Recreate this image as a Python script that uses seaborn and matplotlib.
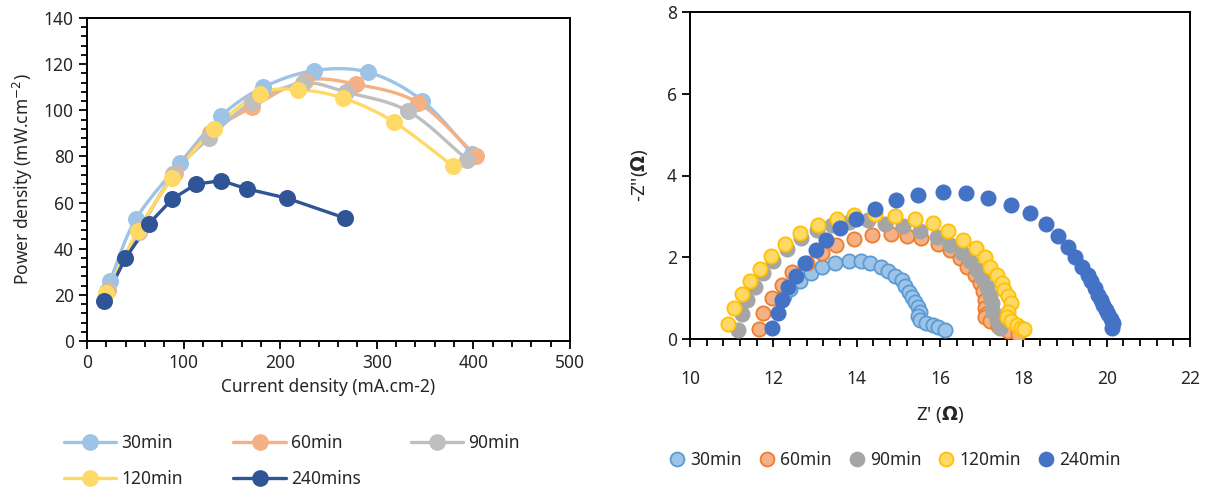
import numpy as np
import pandas as pd
import matplotlib
matplotlib.use("Agg")
import matplotlib.pyplot as plt
from matplotlib.lines import Line2D
from matplotlib.ticker import MultipleLocator
import seaborn as sns

# ---------------- Power density curves ----------------
pd_labels = ["30min", "60min", "90min", "120min", "240mins"]
pd_colors = ["#9DC3E6", "#F4B183", "#BFBFBF", "#FFD966", "#2F5597"]

cur_30 = [23.8, 50.4, 96.0, 139.0, 182.5, 235.0, 291.0, 347.0, 399.0]
pow_30 = [26.1, 52.7, 77.0, 97.6, 110.0, 117.2, 116.5, 104.2, 81.0]
cur_60 = [21.8, 53.6, 91.3, 127.8, 170.6, 226.0, 278.6, 343.0, 402.8]
pow_60 = [22.2, 48.0, 72.8, 90.3, 101.3, 112.9, 111.3, 103.2, 80.4]
cur_90 = [21.0, 53.6, 89.3, 126.0, 170.6, 224.0, 268.0, 332.5, 393.7]
pow_90 = [21.5, 47.3, 72.3, 87.8, 103.4, 111.7, 107.9, 99.6, 78.6]
cur_120 = [19.8, 52.4, 88.0, 131.7, 178.6, 218.0, 265.0, 317.5, 379.0]
pow_120 = [20.8, 47.7, 70.5, 92.1, 107.2, 108.9, 105.3, 95.0, 75.8]
cur_240 = [17.9, 39.7, 64.3, 88.5, 113.0, 139.0, 166.0, 207.0, 267.0]
pow_240 = [17.5, 35.8, 50.9, 61.6, 68.0, 69.5, 65.9, 61.9, 53.3]

pd_series = [(cur_30, pow_30, True), (cur_60, pow_60, True), (cur_90, pow_90, True),
             (cur_120, pow_120, True), (cur_240, pow_240, False)]

# ---------------- Nyquist plots ----------------
eis_labels = ["30min", "60min", "90min", "120min", "240min"]
eis_face = ["#9DC3E6", "#F4B183", "#A5A5A5", "#FFD966", "#4472C4"]
eis_edge = ["#5B9BD5", "#ED7D31", "#A5A5A5", "#FFC000", "#4472C4"]

zre_30 = [12.25, 12.40, 12.63, 12.90, 13.17, 13.49, 13.82, 14.10, 14.32, 14.58, 14.76, 14.92,
          15.08, 15.17, 15.25, 15.32, 15.40, 15.48, 15.52, 15.48, 15.52, 15.66, 15.82, 15.96, 16.12]
zim_30 = [1.05, 1.22, 1.43, 1.61, 1.76, 1.85, 1.92, 1.91, 1.86, 1.77, 1.66, 1.55,
          1.44, 1.30, 1.16, 1.03, 0.91, 0.79, 0.67, 0.57, 0.47, 0.40, 0.34, 0.29, 0.23]
zre_60 = [11.66, 11.76, 11.96, 12.20, 12.44, 12.81, 13.16, 13.50, 13.94, 14.36, 14.82, 15.20,
          15.54, 15.96, 16.24, 16.48, 16.64, 16.84, 16.96, 17.04, 17.08, 17.08, 17.10, 17.07,
          17.20, 17.40, 17.62, 17.86]
zim_60 = [0.25, 0.63, 1.01, 1.32, 1.63, 1.86, 2.11, 2.30, 2.45, 2.55, 2.57, 2.53,
          2.47, 2.32, 2.18, 1.98, 1.77, 1.57, 1.37, 1.17, 0.96, 0.76, 0.60, 0.53,
          0.45, 0.32, 0.20, 0.13]
zre_90 = [11.14, 11.24, 11.36, 11.56, 11.76, 12.00, 12.32, 12.66, 13.04, 13.40, 13.82, 14.28,
          14.68, 15.12, 15.52, 15.92, 16.24, 16.52, 16.72, 16.88, 17.00, 17.12, 17.20, 17.24,
          17.28, 17.36, 17.44]
zim_90 = [0.22, 0.61, 0.96, 1.28, 1.61, 1.90, 2.20, 2.47, 2.67, 2.78, 2.86, 2.90,
          2.82, 2.76, 2.65, 2.50, 2.31, 2.10, 1.90, 1.69, 1.49, 1.28, 1.08, 0.87,
          0.67, 0.47, 0.26]
zre_120 = [10.92, 11.06, 11.24, 11.44, 11.68, 11.94, 12.29, 12.64, 13.06, 13.52, 13.94, 14.44,
           14.92, 15.40, 15.84, 16.20, 16.56, 16.86, 17.08, 17.20, 17.36, 17.48, 17.54, 17.64,
           17.70, 17.62, 17.60, 17.70, 17.84, 17.95, 18.02]
zim_120 = [0.37, 0.75, 1.09, 1.42, 1.72, 2.02, 2.32, 2.59, 2.80, 2.94, 3.04, 3.05,
           3.00, 2.94, 2.84, 2.65, 2.43, 2.22, 2.00, 1.77, 1.57, 1.38, 1.20, 1.04,
           0.87, 0.67, 0.55, 0.45, 0.35, 0.28, 0.24]
zre_240 = [11.96, 12.10, 12.20, 12.36, 12.54, 12.76, 13.02, 13.26, 13.60, 13.98, 14.44, 14.94,
           15.48, 16.06, 16.62, 17.16, 17.70, 18.16, 18.54, 18.84, 19.06, 19.24, 19.40, 19.54,
           19.62, 19.72, 19.80, 19.86, 19.92, 19.98, 20.04, 20.10, 20.14, 20.12]
zim_240 = [0.28, 0.63, 0.96, 1.26, 1.55, 1.86, 2.17, 2.43, 2.72, 2.94, 3.18, 3.39,
           3.53, 3.59, 3.56, 3.44, 3.29, 3.08, 2.81, 2.53, 2.25, 2.00, 1.76, 1.57,
           1.41, 1.24, 1.08, 0.96, 0.83, 0.71, 0.61, 0.48, 0.38, 0.28]

eis_series = [(zre_30, zim_30), (zre_60, zim_60), (zre_90, zim_90),
              (zre_120, zim_120), (zre_240, zim_240)]


def catmull_rom(x, y, steps=16):
    """Smoothed path through the points (Catmull-Rom spline)."""
    p = np.column_stack([x, y]).astype(float)
    p = np.vstack([p[0] * 2 - p[1], p, p[-1] * 2 - p[-2]])
    out = []
    t = np.linspace(0, 1, steps, endpoint=False)[:, None]
    for i in range(1, len(p) - 2):
        p0, p1, p2, p3 = p[i - 1], p[i], p[i + 1], p[i + 2]
        seg = 0.5 * ((2 * p1) + (-p0 + p2) * t + (2 * p0 - 5 * p1 + 4 * p2 - p3) * t ** 2
                     + (-p0 + 3 * p1 - 3 * p2 + p3) * t ** 3)
        out.append(seg)
    out.append(p[-2][None, :])
    out = np.vstack(out)
    return out[:, 0], out[:, 1]


sns.set_style("ticks")
plt.rcParams["font.family"] = ["Noto Sans", "DejaVu Sans"]
plt.rcParams["mathtext.fontset"] = "dejavusans"
plt.rcParams["text.color"] = "#262626"
plt.rcParams["axes.labelcolor"] = "#262626"
plt.rcParams["xtick.color"] = "black"
plt.rcParams["ytick.color"] = "black"
plt.rcParams["xtick.labelcolor"] = "#262626"
plt.rcParams["ytick.labelcolor"] = "#262626"

fig = plt.figure(figsize=(12.11, 4.88), dpi=100)
ax1 = fig.add_axes([87 / 1211, 1 - 341 / 488, 483 / 1211, 323 / 488])
ax2 = fig.add_axes([690 / 1211, 1 - 339 / 488, 500 / 1211, 327 / 488])

FS = 12.5

# ---- left panel ----
handles = []
for (cx, py, smooth), lab, col in zip(pd_series, pd_labels, pd_colors):
    if smooth:
        sx, sy = catmull_rom(cx, py)
    else:
        sx, sy = np.asarray(cx), np.asarray(py)
    sns.lineplot(x=sx, y=sy, sort=False, ax=ax1, color=col, lw=2.4, estimator=None,
                 legend=False)
    sns.scatterplot(x=cx, y=py, ax=ax1, color=col, s=150, linewidth=0, zorder=3,
                    legend=False)
    handles.append(Line2D([], [], color=col, lw=2.4, marker="o", ms=11, mec=col))

ax1.set_xlim(0, 500)
ax1.set_ylim(0, 140)
ax1.xaxis.set_major_locator(MultipleLocator(100))
ax1.xaxis.set_minor_locator(MultipleLocator(20))
ax1.yaxis.set_major_locator(MultipleLocator(20))
ax1.yaxis.set_minor_locator(MultipleLocator(4))
ax1.tick_params(which="major", direction="out", length=6, width=1.3, labelsize=FS)
ax1.tick_params(which="minor", direction="out", length=4, width=1.3)
ax1.set_xlabel("Current density (mA.cm-2)", fontsize=FS, labelpad=4)
ax1.set_ylabel("Power density (mW.cm$^{-2}$)", fontsize=FS, labelpad=6)
for s in ax1.spines.values():
    s.set_visible(True)
    s.set_color("black")
    s.set_linewidth(1.4)
if ax1.get_legend() is not None:
    ax1.get_legend().remove()

order = [0, 3, 1, 4, 2]
fig.legend([handles[i] for i in order], [pd_labels[i] for i in order],
           ncol=3, loc="center", bbox_to_anchor=(292 / 1211, 1 - 461 / 488),
           frameon=False, fontsize=FS, handlelength=3.0, handletextpad=0.3,
           columnspacing=2.9, labelspacing=1.0)

# ---- right panel ----
eh = []
for (zx, zy), lab, fc, ec in zip(eis_series, eis_labels, eis_face, eis_edge):
    sns.scatterplot(x=zx, y=zy, ax=ax2, color=fc, edgecolor=ec, s=105, linewidth=1.3,
                    zorder=3, legend=False)
    eh.append(Line2D([], [], ls="none", marker="o", ms=10, mfc=fc, mec=ec, mew=1.3))

ax2.set_xlim(10, 22)
ax2.set_ylim(0, 8)
ax2.xaxis.set_major_locator(MultipleLocator(2))
ax2.xaxis.set_minor_locator(MultipleLocator(0.4))
ax2.yaxis.set_major_locator(MultipleLocator(2))
ax2.tick_params(which="major", direction="out", length=6, width=1.3, labelsize=FS)
ax2.tick_params(which="minor", direction="out", length=5, width=1.3)
ax2.tick_params(axis="x", which="major", pad=16)
ax2.set_xlabel("Z' ($\\mathbf{\\Omega}$)", fontsize=FS + 1, labelpad=12)
ax2.set_ylabel("-Z''($\\mathbf{\\Omega}$)", fontsize=FS + 1, labelpad=12)
for s in ax2.spines.values():
    s.set_visible(True)
    s.set_color("black")
    s.set_linewidth(1.4)
if ax2.get_legend() is not None:
    ax2.get_legend().remove()

fig.legend(eh, eis_labels, ncol=5, loc="center",
           bbox_to_anchor=(895 / 1211, 1 - 460 / 488), frameon=False, fontsize=FS,
           handlelength=0.9, handletextpad=0.3, columnspacing=1.0)

fig.savefig("out.png", dpi=100, facecolor="white")
